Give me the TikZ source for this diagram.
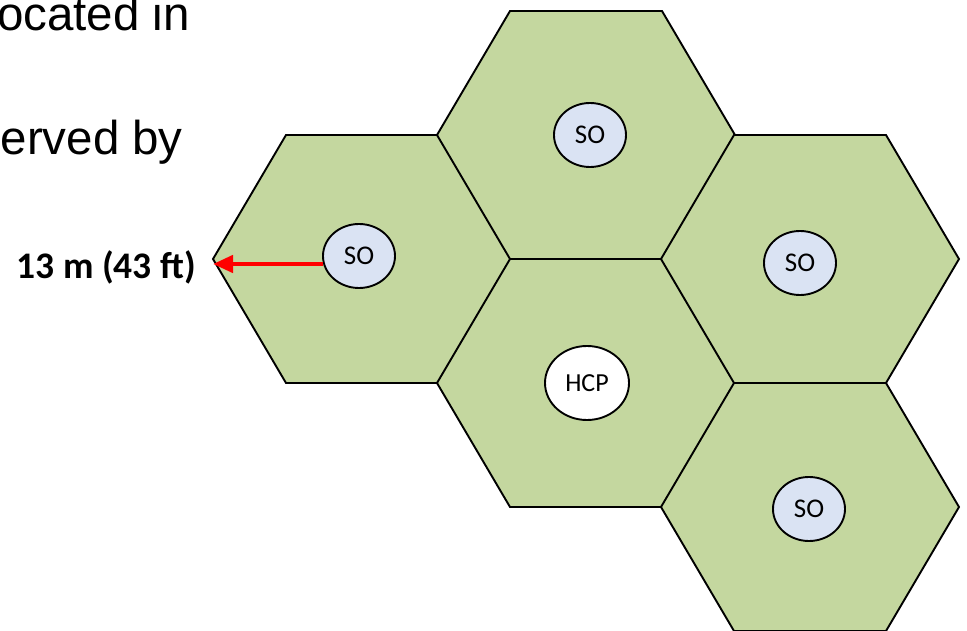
\documentclass[tikz,border=0pt]{standalone}
\usepackage{fontspec}
\setmainfont{Carlito}
\newfontfamily\arialfont{Liberation Sans}
\usetikzlibrary{shapes.geometric,arrows.meta}
\definecolor{hexgreen}{RGB}{196,215,159}
\definecolor{sofill}{RGB}{218,227,243}
\tikzset{
  hexcell/.style={fill=hexgreen,draw=black,line width=1.9pt,line join=miter},
  sonode/.style={ellipse,draw=black,line width=1.9pt,fill=sofill,minimum width=72pt,minimum height=64pt,inner sep=0pt,font=\fontsize{27}{27}\selectfont},
  hcpnode/.style={ellipse,draw=black,line width=1.9pt,fill=white,minimum width=84pt,minimum height=74pt,inner sep=0pt,font=\fontsize{26}{26}\selectfont},
  bigtext/.style={inner sep=0pt,font=\arialfont\fontsize{47.5}{47.5}\selectfont},
  lbl/.style={inner sep=0pt,font=\bfseries\fontsize{37.5}{37.5}\selectfont},
  redarrow/.style={draw=red,line width=4.5pt,-{Triangle[length=20pt,width=17pt]}}
}
\newcommand{\hexat}[2]{%
  \filldraw[hexcell] (#1-149,#2) -- (#1-76,#2-124) -- (#1+76,#2-124) -- (#1+149,#2) -- (#1+76,#2+124) -- (#1-76,#2+124) -- cycle;}
\begin{document}
\begin{tikzpicture}[x=1pt,y=-1pt]
\useasboundingbox (0,0) rectangle (967,631);
\hexat{362}{259}
\hexat{586}{135}
\hexat{586}{383}
\hexat{810}{259}
\hexat{810}{507}
\node[sonode] (soL) at (359,256) {SO};
\node[sonode] (soT) at (590,135) {SO};
\node[sonode] (soR) at (800,263) {SO};
\node[sonode] (soB) at (809,509) {SO};
\node[hcpnode] (hcp) at (587,383) {HCP};
\coordinate (astart) at (323,264);
\coordinate (atip) at (213,264);
\draw[redarrow] (astart) -- (atip);
\node[lbl,anchor=east] (dist) at (196,267) {13 m (43 ft)};
\node[bigtext,anchor=base east] (t1) at (190,31) {ocated in};
\node[bigtext,anchor=base east] (t2) at (183,155) {erved by};
\end{tikzpicture}
\end{document}
